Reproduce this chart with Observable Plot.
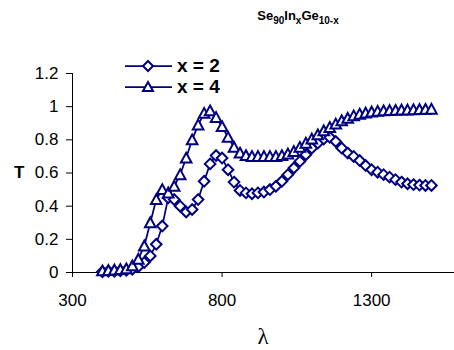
<!DOCTYPE html>
<html>
<head>
<meta charset="utf-8">
<script src="https://cdn.jsdelivr.net/npm/d3@7"></script>
<script src="https://cdn.jsdelivr.net/npm/@observablehq/plot@0.6"></script>
<style>
  html, body { margin: 0; padding: 0; background: #fff; }
  #wrap { position: relative; width: 454px; height: 350px; overflow: hidden; font-family: Arial, "Liberation Sans", sans-serif; }
  #chart { position: absolute; left: 0; top: 0; }
  .abs { position: absolute; white-space: pre; line-height: 1; color: #000; }
  #title { left: 298px; top: 9px; transform: translateX(-50%); font-weight: bold; font-size: 13px; }
  #title sub { font-size: 10px; vertical-align: -4px; line-height: 0; }
  #ylab { left: 14px; top: 164px; font-weight: bold; font-size: 17px; }
  #xlab { left: 263px; top: 325px; transform: translateX(-50%); font-family: "Liberation Serif", "Times New Roman", serif; font-size: 23px; }
  #legend { left: 120px; top: 55px; }
  .legrow { display: flex; align-items: center; height: 21px; }
  .legrow span { font-weight: bold; font-size: 19px; margin-left: 5px; }
</style>
</head>
<body>
<div id="wrap">
  <div id="chart"></div>
  <div id="title" class="abs">Se<sub>90</sub>In<sub>x</sub>Ge<sub>10-x</sub></div>
  <div id="ylab" class="abs">T</div>
  <div id="xlab" class="abs">λ</div>
  <div id="legend" class="abs"></div>
</div>
<script>
// wavelength (nm)
const lambda = [400,420,440,460,480,500,520,540,560,580,
                600,620,640,660,680,700,720,740,760,780,
                800,820,840,860,880,900,920,940,960,980,
                1000,1020,1040,1060,1080,1100,1120,1140,1160,1180,
                1200,1220,1240,1260,1280,1300,1320,1340,1360,1380,
                1400,1420,1440,1460,1480,1500];
// transmittance, x = 2 (diamonds)
const tX2 = [0.005,0.007,0.008,0.010,0.013,0.020,0.035,0.060,0.100,0.170,
             0.280,0.450,0.440,0.400,0.365,0.380,0.440,0.550,0.655,0.705,
             0.690,0.620,0.545,0.495,0.480,0.475,0.480,0.485,0.500,0.520,
             0.550,0.590,0.630,0.670,0.710,0.750,0.780,0.805,0.815,0.790,
             0.750,0.720,0.700,0.675,0.645,0.620,0.605,0.590,0.575,0.560,
             0.545,0.535,0.530,0.527,0.525,0.525];
// transmittance, x = 4 (triangles)
const tX4 = [0.010,0.012,0.015,0.018,0.022,0.040,0.080,0.160,0.300,0.440,
             0.500,0.480,0.520,0.590,0.690,0.800,0.890,0.960,0.975,0.935,
             0.880,0.815,0.755,0.720,0.705,0.700,0.700,0.700,0.700,0.700,
             0.705,0.715,0.730,0.755,0.780,0.805,0.830,0.855,0.875,0.895,
             0.915,0.930,0.945,0.955,0.962,0.968,0.972,0.975,0.977,0.978,
             0.980,0.980,0.982,0.983,0.984,0.985];
const seriesNames = ["x = 2", "x = 4"];
const xTicks = [300, 800, 1300];
const yTicks = [0, 0.2, 0.4, 0.6, 0.8, 1, 1.2];
const yTickLabels = ["0", "0.2", "0.4", "0.6", "0.8", "1", "1.2"];

const NAVY = "#000080";
const d2 = lambda.map((l, i) => ({lambda: l, T: tX2[i]}));
const d4 = lambda.map((l, i) => ({lambda: l, T: tX4[i]}));

// Excel-like marker shapes (size -> half width r)
const diamondSym = {draw(ctx, size) { const r = Math.sqrt(size / Math.PI);
  ctx.moveTo(0, -r); ctx.lineTo(r, 0); ctx.lineTo(0, r); ctx.lineTo(-r, 0); ctx.closePath(); }};
const triSym = {draw(ctx, size) { const r = Math.sqrt(size / Math.PI);
  ctx.moveTo(0, -r); ctx.lineTo(r, r * 0.85); ctx.lineTo(-r, r * 0.85); ctx.closePath(); }};

const chart = Plot.plot({
  width: 454, height: 350,
  marginTop: 73, marginRight: 0, marginBottom: 78, marginLeft: 72,
  style: {fontFamily: "Arial, 'Liberation Sans', sans-serif", fontSize: "17px", color: "#000", background: "transparent"},
  x: {domain: [300, 1577], ticks: xTicks, tickSize: 5, tickPadding: 16, tickFormat: d => String(d), label: null},
  y: {domain: [0, 1.2], ticks: yTicks, tickSize: 6, tickPadding: 8, tickFormat: (d, i) => yTickLabels[i], label: null},
  marks: [
    Plot.ruleY([0], {stroke: "#000"}),
    Plot.ruleX([300], {stroke: "#000"}),
    Plot.line(d2, {x: "lambda", y: "T", stroke: NAVY, strokeWidth: 1.75}),
    Plot.dot(d2, {x: "lambda", y: "T", symbol: diamondSym, r: 5.3, stroke: NAVY, strokeWidth: 2, fill: "#fff"}),
    Plot.line(d4, {x: "lambda", y: "T", stroke: NAVY, strokeWidth: 1.75}),
    Plot.dot(d4, {x: "lambda", y: "T", symbol: triSym, r: 5.3, stroke: NAVY, strokeWidth: 2, fill: "#fff"})
  ]
});
document.getElementById("chart").appendChild(chart);

// legend
const leg = document.getElementById("legend");
const shapes = [
  '<path d="M28,5 L33,10 L28,15 L23,10 Z" fill="#fff" stroke="' + NAVY + '" stroke-width="2"/>',
  '<path d="M28,5 L33,14 L23,14 Z" fill="#fff" stroke="' + NAVY + '" stroke-width="2"/>'
];
seriesNames.forEach((name, i) => {
  const row = document.createElement("div");
  row.className = "legrow";
  row.innerHTML = '<svg width="52" height="20"><line x1="5" y1="10" x2="52" y2="10" stroke="' + NAVY + '" stroke-width="1.75"/>' + shapes[i] + '</svg><span>' + name + '</span>';
  leg.appendChild(row);
});
</script>
</body>
</html>
